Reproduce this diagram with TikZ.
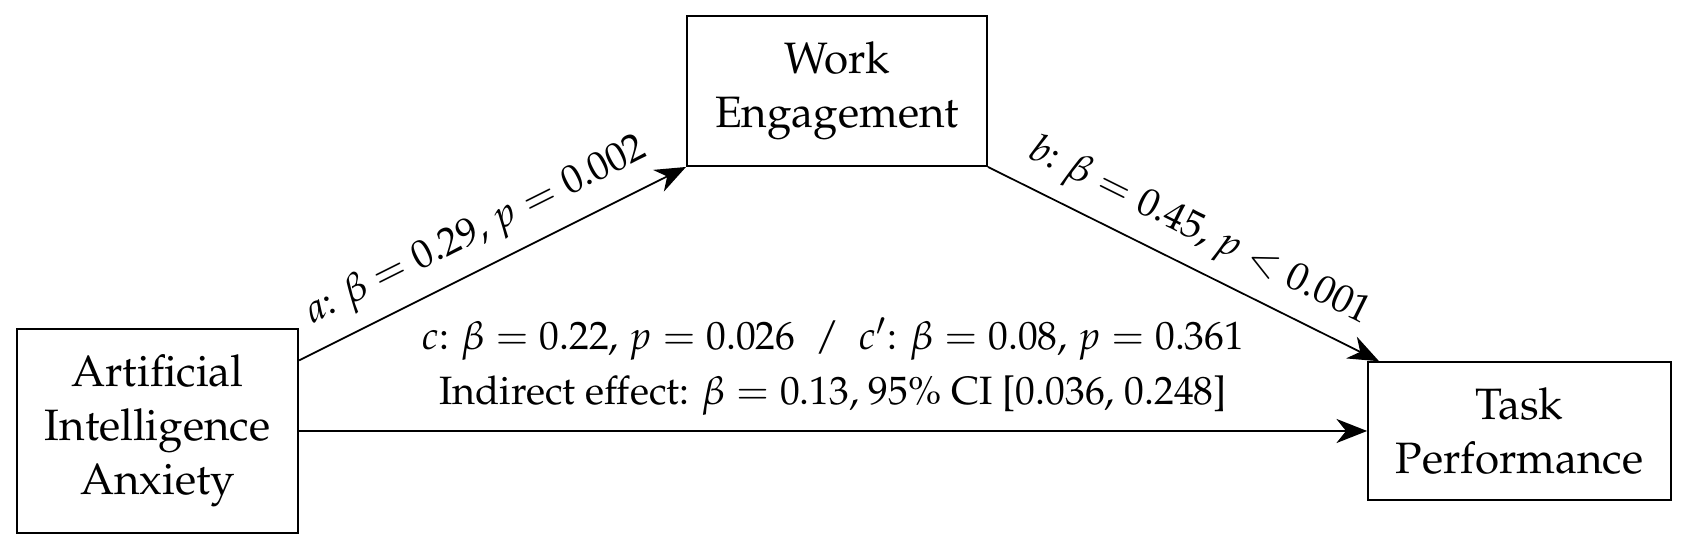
\documentclass[tikz,border=0pt]{standalone}
\usepackage[T1]{fontenc}
\usepackage{amsmath}
\usepackage{mathpazo}
\usetikzlibrary{positioning,arrows.meta}

\tikzset{
  var/.style={draw, line width=0.45pt, align=center, inner sep=2pt,
    font=\fontsize{10pt}{12.3pt}\selectfont},
  path/.style={draw, line width=0.4pt, -{Stealth[length=7pt,width=5.5pt,inset=2.2pt]}},
}

\begin{document}
\begin{tikzpicture}[font=\fontsize{9pt}{12.5pt}\selectfont]
            \useasboundingbox (0,0) rectangle (13.472,-4.4);
            \node[var, minimum width=2.25cm, minimum height=1.63cm] (ai) at (1.26,-3.448)
            {Artificial\\Intelligence\\Anxiety};
            \node[var, minimum width=2.42cm, minimum height=1.10cm, right=8.544cm of ai] (tp)
            {Task\\Performance};
            \node[var, minimum width=2.4cm, minimum height=1.2cm] (we) at (6.696,-0.728)
            {Work\\Engagement};

            \draw[path] (ai) -- (we.south west)
              node[midway, above, sloped] {$a$: $\beta = 0.29$, $p = 0.002$};
            \draw[path] (we.south east) -- (tp)
              node[midway, above, sloped] {$b$: $\beta = 0.45$, $p < 0.001$};
            \draw[path] (ai) -- (tp)
              node[midway, above, align=center]
              {$c$: $\beta = 0.22$, $p = 0.026$ \ / \ $c'$: $\beta = 0.08$, $p = 0.361$\\
               Indirect effect: $\beta = 0.13$, 95\% CI [0.036, 0.248]};
        \end{tikzpicture}
\end{document}
